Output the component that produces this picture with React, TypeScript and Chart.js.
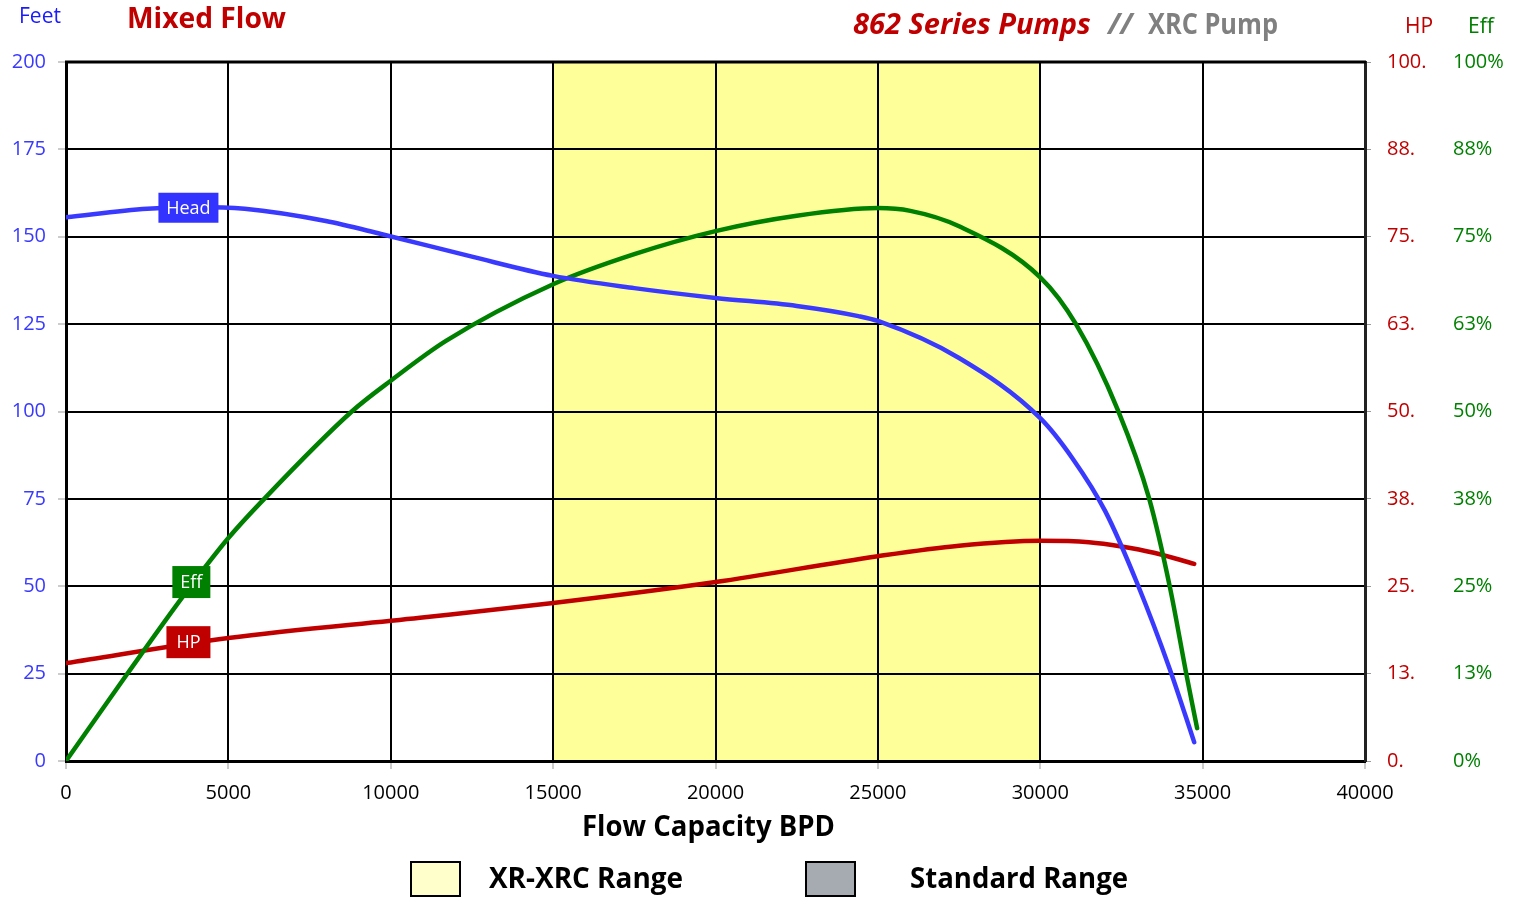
import React, { useEffect, useRef } from "react";
import { Chart, registerables } from "chart.js";
Chart.register(...registerables);

// ---- data ----
const headFlow = [0, 2500, 4000, 5500, 8000, 9700, 12500, 15000, 17500, 20000, 22500, 24400, 25000, 27500, 30000, 31000, 32000, 33000, 34000, 34740];
const headFeet = [155.6, 158.0, 158.5, 158.0, 154.5, 150.8, 144.3, 138.8, 135.3, 132.5, 130.2, 127.3, 125.9, 115.3, 98.1, 86.5, 71.5, 50.5, 26.0, 5.4];
const effFlow = [0, 1877, 3723, 5000, 6000, 8800, 10000, 11700, 15000, 17500, 20000, 22500, 25000, 26000, 27500, 30000, 31100, 32400, 33350, 34000, 34500, 34830];
const effPct = [0, 12.4, 24.3, 31.9, 37.0, 50.0, 54.4, 60.1, 68.2, 72.5, 75.8, 78.0, 79.1, 78.7, 76.5, 69.2, 62.5, 50.1, 37.6, 24.7, 12.4, 4.7];
const hpFlow = [0, 5000, 10900, 15000, 20000, 25000, 27500, 30000, 31500, 32500, 33500, 34740];
const hpValues = [14.0, 17.6, 20.5, 22.6, 25.6, 29.3, 30.8, 31.5, 31.3, 30.7, 29.8, 28.2];

const xrRange = [15000, 30000];

const xTickLabels = ["0", "5000", "10000", "15000", "20000", "25000", "30000", "35000", "40000"];
const feetTickLabels = ["0", "25", "50", "75", "100", "125", "150", "175", "200"];
const hpTickLabels = ["0.", "13.", "25.", "38.", "50.", "63.", "75.", "88.", "100."];
const effTickLabels = ["0%", "13%", "25%", "38%", "50%", "63%", "75%", "88%", "100%"];

const legendLabels = ["XR-XRC Range", "Standard Range"];

// ---- styles ----
const BLUE = "#3a3aff";
const GREEN = "#008000";
const RED = "#c00000";
const GRAY = "#808080";
const FONT = "'Open Sans', sans-serif";

const pts = (xs: number[], ys: number[]) => xs.map((x, i) => ({ x, y: ys[i] }));

function box(ctx: CanvasRenderingContext2D, cx: number, cy: number, w: number, h: number, fill: string, text: string) {
  ctx.fillStyle = fill;
  ctx.fillRect(cx - w / 2, cy - h / 2, w, h);
  ctx.fillStyle = "#fff";
  ctx.font = `18px ${FONT}`;
  ctx.textAlign = "center";
  ctx.textBaseline = "middle";
  ctx.fillText(text, cx, cy + 1);
}

const decorPlugin = {
  id: "decor",
  beforeDraw(chart: any) {
    const { ctx, chartArea, scales } = chart;
    ctx.save();
    ctx.fillStyle = "#fff";
    ctx.fillRect(0, 0, chart.width, chart.height);
    const x0 = scales.x.getPixelForValue(xrRange[0]);
    const x1 = scales.x.getPixelForValue(xrRange[1]);
    ctx.fillStyle = "#ffff99";
    ctx.fillRect(x0, chartArea.top, x1 - x0, chartArea.bottom - chartArea.top);
    ctx.restore();
  },
  afterDatasetsDraw(chart: any) {
    const { ctx, scales } = chart;
    ctx.save();
    box(ctx, scales.x.getPixelForValue(3770), scales.y.getPixelForValue(158.3), 60, 30, "#3333ff", "Head");
    box(ctx, scales.x.getPixelForValue(3860), scales.y2.getPixelForValue(25.6), 38, 32, GREEN, "Eff");
    box(ctx, scales.x.getPixelForValue(3770), scales.y2.getPixelForValue(17.0), 44, 32, RED, "HP");
    ctx.restore();
  },
  afterDraw(chart: any) {
    const { ctx, chartArea } = chart;
    ctx.save();
    ctx.textBaseline = "middle";
    ctx.textAlign = "left";
    // axis unit titles
    ctx.font = `21px ${FONT}`;
    ctx.fillStyle = "#1a1aff";
    ctx.fillText("Feet", 19, 17, 46);
    ctx.fillStyle = RED;
    ctx.fillText("HP", 1405, 27, 30);
    ctx.fillStyle = GREEN;
    ctx.fillText("Eff", 1468, 27, 30);
    // titles
    ctx.font = `bold 29px ${FONT}`;
    ctx.fillStyle = RED;
    ctx.fillText("Mixed Flow", 127, 20, 159);
    ctx.font = `italic bold 29px ${FONT}`;
    ctx.fillText("862 Series Pumps", 853, 26, 238);
    ctx.fillStyle = GRAY;
    ctx.fillText("//", 1108, 26, 26);
    ctx.font = `bold 28px ${FONT}`;
    ctx.fillText("XRC Pump", 1148, 26, 130);
    // top border
    ctx.strokeStyle = "#000";
    ctx.lineWidth = 3;
    ctx.beginPath();
    ctx.moveTo(chartArea.left - 1, chartArea.top);
    ctx.lineTo(chartArea.right + 1, chartArea.top);
    ctx.stroke();
    // x title
    ctx.fillStyle = "#000";
    ctx.textAlign = "left";
    ctx.font = `bold 28px ${FONT}`;
    ctx.fillText("Flow Capacity BPD", 582, 828, 253);
    // legend
    ctx.lineWidth = 2;
    ctx.fillStyle = "#ffffcc";
    ctx.fillRect(411, 862, 49, 34);
    ctx.strokeRect(411, 862, 49, 34);
    ctx.fillStyle = "#a6abb2";
    ctx.fillRect(806, 862, 49, 34);
    ctx.strokeRect(806, 862, 49, 34);
    ctx.fillStyle = "#000";
    ctx.fillText(legendLabels[0], 489, 880, 194);
    ctx.fillText(legendLabels[1], 910, 880, 218);
    ctx.restore();
  },
};

export default function App() {
  const ref = useRef<HTMLCanvasElement>(null);
  useEffect(() => {
    if (!ref.current) return;
    const tickFont = { family: FONT, size: 20 };
    const line = { borderWidth: 4.5, pointRadius: 0, cubicInterpolationMode: "monotone", borderCapStyle: "round", fill: false };
    const chart = new Chart(ref.current, {
      type: "line",
      data: {
        datasets: [
          { label: "Head", data: pts(headFlow, headFeet), borderColor: BLUE, yAxisID: "y", ...line },
          { label: "Eff", data: pts(effFlow, effPct), borderColor: GREEN, yAxisID: "y2", ...line },
          { label: "HP", data: pts(hpFlow, hpValues), borderColor: RED, yAxisID: "y2", ...line },
        ],
      },
      options: {
        animation: false,
        responsive: false,
        layout: { padding: { top: 62, left: 0, right: 0, bottom: 0 } },
        plugins: { legend: { display: false }, tooltip: { enabled: false } },
        scales: {
          x: {
            type: "linear",
            min: 0,
            max: 40000,
            ticks: { stepSize: 5000, color: "#000", font: tickFont, padding: 12, maxRotation: 0, callback: (_v: any, i: number) => xTickLabels[i] },
            grid: { color: "#000", lineWidth: 2, tickLength: 8, tickColor: "#999", tickWidth: 1 },
            border: { color: "#000", width: 3 },
            afterFit: (s: any) => { s.height = 137; },
          },
          y: {
            position: "left",
            min: 0,
            max: 200,
            ticks: { stepSize: 25, color: BLUE, font: tickFont, padding: 12, callback: (_v: any, i: number) => feetTickLabels[i] },
            grid: { color: "#000", lineWidth: 2, tickLength: 8, tickColor: "#999", tickWidth: 1 },
            border: { color: "#000", width: 3 },
            afterFit: (s: any) => { s.width = 66; },
          },
          y2: {
            position: "right",
            min: 0,
            max: 100,
            ticks: { stepSize: 12.5, color: RED, font: tickFont, padding: 16, callback: (_v: any, i: number) => hpTickLabels[i] },
            grid: { drawOnChartArea: false, tickLength: 6, color: "#999", tickWidth: 1 },
            border: { color: "#222", width: 3 },
            afterFit: (s: any) => { s.width = 80; },
          },
          y3: {
            position: "right",
            min: 0,
            max: 100,
            ticks: { stepSize: 12.5, color: GREEN, font: tickFont, padding: 8, callback: (_v: any, i: number) => effTickLabels[i] },
            grid: { display: false, drawTicks: false },
            border: { display: false },
            afterFit: (s: any) => { s.width = 69; },
          },
        },
      } as any,
      plugins: [decorPlugin],
    });
    return () => chart.destroy();
  }, []);
  return (
    <div style={{ position: "absolute", left: 0, top: 0, width: 1514, height: 898 }}>
      <canvas ref={ref} width={1514} height={898} />
    </div>
  );
}
